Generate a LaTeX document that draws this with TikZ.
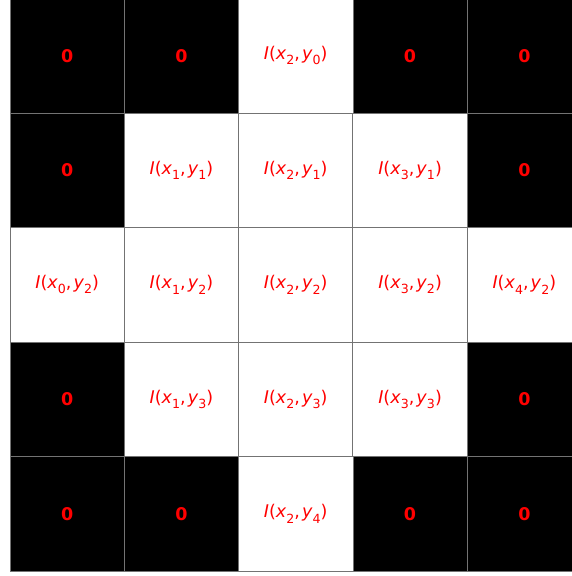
\documentclass[tikz,border=0pt]{standalone}
\usepackage{fontspec}
\setmainfont{DejaVu Sans}
\usepackage{tikz}
\usetikzlibrary{positioning}
\newcommand{\lowidx}[1]{\raisebox{-0.3em}{\fontsize{12.6}{12.6}\selectfont #1}}
\newcommand{\Ival}[2]{\textit{I}(\textit{x}\lowidx{#1},\hspace{0.12em}\textit{y}\lowidx{#2})}

\begin{document}
\begin{tikzpicture}[x=1pt,y=-1pt,
  cell/.style={draw=gray!90!black,line width=0.8pt,minimum size=114.4pt,inner sep=0pt,
               fill=#1,font=\fontsize{17.5}{17.5}\selectfont,text=red},cell/.default=white,
  zero/.style={cell=black,font=\fontsize{17.5}{17.5}\selectfont\bfseries}]
  \useasboundingbox (0,0) rectangle (572,576);
  % black cells outside the cross
  \foreach \c/\r in {0/0,1/0,3/0,4/0,0/1,4/1,0/3,4/3,0/4,1/4,3/4,4/4}
    \node[zero] (c\c\r) at ({10+114.3*(\c+0.5)},{-1.5+114.5*(\r+0.5)}) {0};
  % image samples
  \foreach \c/\r in {2/0,1/1,2/1,3/1,0/2,1/2,2/2,3/2,4/2,1/3,2/3,3/3,2/4}
    \node[cell] (c\c\r) at ({10+114.3*(\c+0.5)},{-1.5+114.5*(\r+0.5)}) {\Ival{\c}{\r}};
\end{tikzpicture}
\end{document}
